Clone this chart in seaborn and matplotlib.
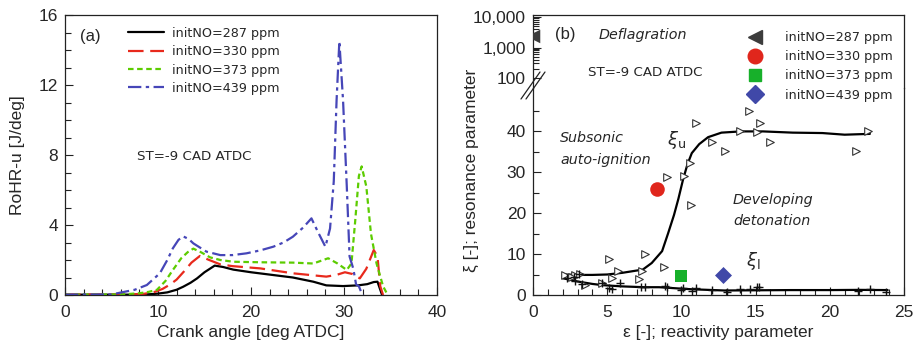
import numpy as np
import pandas as pd
import matplotlib
matplotlib.use("Agg")
import matplotlib.pyplot as plt
from matplotlib.lines import Line2D
from matplotlib.ticker import MultipleLocator, FixedLocator, FixedFormatter, NullFormatter
import seaborn as sns

sns.set_style("ticks")
plt.rcParams["font.family"] = ["Liberation Sans", "DejaVu Sans"]
plt.rcParams["mathtext.fontset"] = "dejavusans"

# ---------------- Panel (a): RoHR in the unburned zone ----------------
labels = ["initNO=287 ppm", "initNO=330 ppm", "initNO=373 ppm", "initNO=439 ppm"]

ca_287 = [0, 8, 9, 10, 11, 12, 12.7, 13.5, 14.2, 15, 16.1, 17, 18.1, 20, 22.4, 24.5, 26.7,
          28.1, 29.9, 31.5, 32.5, 33.2, 33.6, 33.9, 34.1]
rohr_287 = [0.02, 0.02, 0.04, 0.08, 0.15, 0.3, 0.47, 0.7, 0.95, 1.3, 1.68, 1.6, 1.45, 1.3,
            1.14, 1.0, 0.76, 0.55, 0.51, 0.55, 0.62, 0.74, 0.76, 0.3, 0.0]

ca_330 = [0, 7, 8.5, 9.5, 10.5, 11.3, 12.0, 12.8, 13.6, 14.5, 15.5, 16.7, 18, 21.0, 24.5,
          28.1, 29.2, 30.1, 30.9, 31.7, 32.4, 33.2, 33.6, 33.9, 34.2]
rohr_330 = [0.02, 0.03, 0.07, 0.15, 0.35, 0.6, 0.88, 1.35, 1.85, 2.23, 2.0, 1.75, 1.65,
            1.52, 1.24, 1.05, 1.15, 1.3, 1.2, 0.95, 1.5, 2.57, 2.2, 0.5, 0.0]

ca_373 = [0, 6, 8, 9, 9.9, 10.8, 11.6, 12.5, 13.2, 13.8, 14.6, 15.6, 16.7, 18.1, 21, 24.5,
          26.7, 28.3, 29.3, 30.3, 30.8, 31.2, 31.6, 31.9, 32.4, 32.9, 33.5, 34.2, 34.7]
rohr_373 = [0.02, 0.03, 0.1, 0.18, 0.3, 0.8, 1.43, 2.1, 2.45, 2.65, 2.45, 2.15, 2.0, 1.9,
            1.87, 1.85, 1.8, 2.1, 1.8, 1.43, 1.8, 4.2, 6.8, 7.35, 6.2, 3.5, 1.8, 0.5, 0.0]

ca_439 = [0, 5, 5.9, 7.5, 8.8, 10.2, 11.0, 11.6, 12.2, 12.7, 13.3, 13.8, 15.2, 16.7, 18,
          19.5, 21, 22.4, 23.5, 24.5, 25.6, 26.5, 27.2, 28.0, 28.5, 28.9, 29.2, 29.5, 29.9,
          30.3, 30.6, 31.0, 31.3, 31.6, 31.9, 32.1]
rohr_439 = [0.02, 0.03, 0.13, 0.3, 0.57, 1.24, 2.0, 2.67, 3.15, 3.35, 3.2, 2.95, 2.48, 2.28,
            2.28, 2.38, 2.55, 2.76, 3.0, 3.33, 3.85, 4.38, 3.6, 2.76, 3.8, 6.5, 11.1, 14.5,
            11.1, 6.2, 2.2, 1.5, 0.6, 0.5, 0.1, 0.0]

line_colors = ["#000000", "#e8291c", "#5ccc00", "#4646b8"]
line_dashes = [(None, None), (7, 3), (2.5, 1.6), (6, 2, 1.5, 2)]

# ---------------- Panel (b): xi-epsilon diagram ----------------
eps_tri = [14.57, 10.99, 15.29, 13.95, 15.07, 22.58, 15.96, 12.04, 12.94, 21.79, 10.58,
           10.18, 9.01, 10.63, 7.56, 5.09, 8.83, 7.33, 5.76, 7.11, 5.31, 4.64, 3.52, 2.17,
           2.85, 3.18, 2.6]
xi_tri = [45.0, 42.0, 42.0, 40.1, 39.8, 40.1, 37.2, 37.2, 35.2, 35.2, 32.1, 29.0, 28.9,
          22.0, 9.9, 8.9, 6.9, 5.9, 5.9, 3.8, 4.1, 3.0, 2.4, 4.9, 4.9, 5.1, 4.3]

eps_plus = [2.3, 2.73, 3.07, 2.85, 3.3, 4.64, 5.09, 5.3, 5.87, 7.27, 7.55, 8.9, 9.0, 10.0,
            10.1, 10.7, 11.0, 12.05, 13.05, 13.95, 14.6, 15.07, 15.25, 21.9, 22.7, 23.8]
xi_plus = [4.2, 4.5, 5.1, 3.5, 2.6, 3.0, 1.6, 1.4, 3.0, 1.9, 1.9, 2.2, 1.9, 1.3, 1.8, 1.05,
           1.8, 1.2, 0.8, 1.4, 1.4, 1.9, 1.9, 1.05, 1.4, 0.8]

eps_upper = [2.1, 3.0, 4.0, 5.0, 6.0, 7.4, 8.0, 8.7, 9.1, 9.5, 9.8, 10.1, 10.4, 10.7, 11.2,
             11.8, 12.7, 14.0, 15.5, 17.5, 19.5, 21.0, 22.7]
xi_upper = [5.0, 4.9, 4.9, 5.0, 5.4, 6.2, 7.8, 10.7, 15.0, 19.5, 23.5, 28.0, 31.8, 34.6,
            36.8, 38.5, 39.6, 39.9, 39.9, 39.6, 39.5, 39.1, 39.3]

eps_lower = [2.0, 3.0, 4.0, 4.7, 6.0, 7.5, 8.5, 10.0, 10.7, 12.9, 15.0, 17.4, 20.0, 22.0, 23.9]
xi_lower = [4.1, 3.3, 2.7, 2.4, 2.1, 1.9, 1.9, 1.55, 1.4, 1.1, 1.15, 1.2, 1.2, 1.25, 1.2]

case_eps = [0.0, 8.33, 9.95, 12.8]
case_xi = [2400.0, 25.9, 4.6, 4.8]
case_markers = ["<", "o", "s", "D"]
case_colors = ["#3c3c3c", "#e0261c", "#17b02a", "#4048a8"]
case_sizes = [95, 110, 70, 75]

# ---------------- figure ----------------
W, H = 919, 351
fig = plt.figure(figsize=(W / 100, H / 100), dpi=100)


def fx(px):
    return px / W


def fy(py):
    return 1 - py / H


tick_fs = 12.5
small_font = ["DejaVu Sans"]

axa = fig.add_axes([fx(65), fy(295), fx(437 - 65), (295 - 15) / H])

series_ca = [ca_287, ca_330, ca_373, ca_439]
series_rohr = [rohr_287, rohr_330, rohr_373, rohr_439]
for ca, rr, lab, col, dsh in zip(series_ca, series_rohr, labels, line_colors, line_dashes):
    df = pd.DataFrame({"ca": ca, "rohr": rr})
    kw = dict(color=col, lw=1.6, label=lab)
    if dsh[0] is not None:
        kw["dashes"] = dsh
    sns.lineplot(data=df, x="ca", y="rohr", ax=axa, sort=False, estimator=None, **kw)

axa.set_xlim(0, 40)
axa.set_ylim(0, 16)
axa.xaxis.set_major_locator(MultipleLocator(10))
axa.xaxis.set_minor_locator(MultipleLocator(2))
axa.yaxis.set_major_locator(MultipleLocator(4))
axa.yaxis.set_minor_locator(MultipleLocator(1))
axa.tick_params(which="both", direction="in", top=False, right=False, labelsize=tick_fs,
                color="#222222", width=0.8)
axa.tick_params(which="major", length=6, pad=5)
axa.tick_params(axis="x", which="major", pad=7)
axa.tick_params(which="minor", length=4)
axa.set_xlabel("Crank angle [deg ATDC]", fontsize=12.5, labelpad=4)
axa.set_ylabel("RoHR-u [J/deg]", fontsize=12.5, labelpad=10)
for s in axa.spines.values():
    s.set_linewidth(0.9)
    s.set_color("#222222")

leg = axa.legend(loc="upper left", bbox_to_anchor=(0.15, 0.985), frameon=False,
                 prop={"family": small_font, "size": 9.2}, handlelength=2.8,
                 handletextpad=0.6, labelspacing=0.42, borderaxespad=0.2)
axa.text(0.04, 0.95, "(a)", transform=axa.transAxes, fontsize=12, va="top", ha="left")
axa.text(0.194, 0.495, "ST=-9 CAD ATDC", transform=axa.transAxes, fontsize=9.6,
         family=small_font, va="center", ha="left")

# Panel (b): broken y axis, log on top and linear below
brk = 88
axb = fig.add_axes([fx(533), fy(295), fx(904 - 533), (295 - brk) / H])
axt = fig.add_axes([fx(533), fy(brk), fx(904 - 533), (brk - 15) / H], sharex=axb)

df_u = pd.DataFrame({"eps": eps_upper, "xi": xi_upper})
df_l = pd.DataFrame({"eps": eps_lower, "xi": xi_lower})
sns.lineplot(data=df_u, x="eps", y="xi", ax=axb, color="black", lw=1.6, sort=False,
             estimator=None)
sns.lineplot(data=df_l, x="eps", y="xi", ax=axb, color="black", lw=1.6, sort=False,
             estimator=None)
sns.scatterplot(x=eps_tri, y=xi_tri, ax=axb, marker=">", s=30, facecolor="white",
                edgecolor="#333333", linewidth=0.8, zorder=3)
sns.scatterplot(x=eps_plus, y=xi_plus, ax=axb, marker="+", s=40, color="#111111",
                linewidth=1.0, zorder=3)

handles = []
for e, x, m, c, s, lab in zip(case_eps, case_xi, case_markers, case_colors, case_sizes, labels):
    target = axt if x > 100 else axb
    sc = sns.scatterplot(x=[e], y=[x], ax=target, marker=m, s=s, color=c, edgecolor=c,
                         linewidth=0, zorder=4)
    handles.append(Line2D([], [], ls="none", marker=m, color=c, markeredgecolor=c,
                          markersize=np.sqrt(s), label=lab))
for coll in axt.collections:
    coll.set_clip_on(True)

axb.set_xlim(0, 25)
axb.set_ylim(0, (295 - brk) / 4.1)
axt.set_yscale("log")
dec = 30.5
axt.set_ylim(10 ** (2 - (brk - 78) / dec), 10 ** (4 + (17 - 15) / dec))

axb.xaxis.set_major_locator(MultipleLocator(5))
axb.xaxis.set_minor_locator(MultipleLocator(1))
axb.yaxis.set_major_locator(FixedLocator([0, 10, 20, 30, 40]))
axb.yaxis.set_minor_locator(FixedLocator([5, 15, 25, 35, 45]))
axt.yaxis.set_major_locator(FixedLocator([100, 1000, 10000]))
axt.yaxis.set_major_formatter(FixedFormatter(["100", "1,000", "10,000"]))
axt.yaxis.set_minor_locator(FixedLocator([k * 10 ** p for p in (2, 3) for k in range(2, 10)]))
axt.yaxis.set_minor_formatter(NullFormatter())
axt.tick_params(axis="x", which="both", bottom=False, labelbottom=False)

for ax in (axb, axt):
    ax.tick_params(which="both", direction="in", top=False, right=False, labelsize=tick_fs,
                   color="#222222", width=0.8)
    ax.tick_params(which="major", length=6, pad=5)
    ax.tick_params(which="minor", length=4)
    for s in ax.spines.values():
        s.set_linewidth(0.9)
        s.set_color("#222222")
axb.tick_params(axis="x", which="major", pad=7)
axb.spines["top"].set_visible(False)
axt.spines["bottom"].set_visible(False)
axt.set_ylabel("")
axt.set_xlabel("")
axb.set_xlabel("ε [-]; reactivity parameter", fontsize=12.5, labelpad=4)
axb.set_ylabel("ξ [-]; resonance parameter", fontsize=12.5, labelpad=6)
axb.yaxis.set_label_coords(-0.145, 0.6)

# break marks on the left spine
for dx in (0, 5):
    fig.add_artist(Line2D([fx(521 + dx), fx(540 + dx)], [fy(99), fy(72)], color="#222222",
                          lw=0.9, transform=fig.transFigure))

fig.legend(handles=handles, loc="upper left", bbox_to_anchor=(fx(740), fy(26)),
           frameon=False, prop={"family": small_font, "size": 9.2}, handlelength=1.6,
           handletextpad=1.5, labelspacing=0.48, borderaxespad=0)

fig.text(fx(555), fy(34), "(b)", fontsize=12, va="center", ha="left")
fig.text(fx(599), fy(35), "Deflagration", fontsize=10.3, style="italic", family=small_font,
         va="center", ha="left")
fig.text(fx(588), fy(73), "ST=-9 CAD ATDC", fontsize=9.6, family=small_font, va="center",
         ha="left")
fig.text(fx(560), fy(138), "Subsonic", fontsize=10.3, style="italic", family=small_font,
         va="center", ha="left")
fig.text(fx(560), fy(160), "auto-ignition", fontsize=10.3, style="italic", family=small_font,
         va="center", ha="left")
fig.text(fx(733), fy(200), "Developing", fontsize=10.3, style="italic", family=small_font,
         va="center", ha="left")
fig.text(fx(733), fy(221), "detonation", fontsize=10.3, style="italic", family=small_font,
         va="center", ha="left")
fig.text(fx(667), fy(140), r"$\xi_{\mathrm{u}}$", fontsize=13, va="center", ha="left")
fig.text(fx(746), fy(261), r"$\xi_{\mathrm{l}}$", fontsize=13, va="center", ha="left")

fig.savefig("out.png", dpi=100)
